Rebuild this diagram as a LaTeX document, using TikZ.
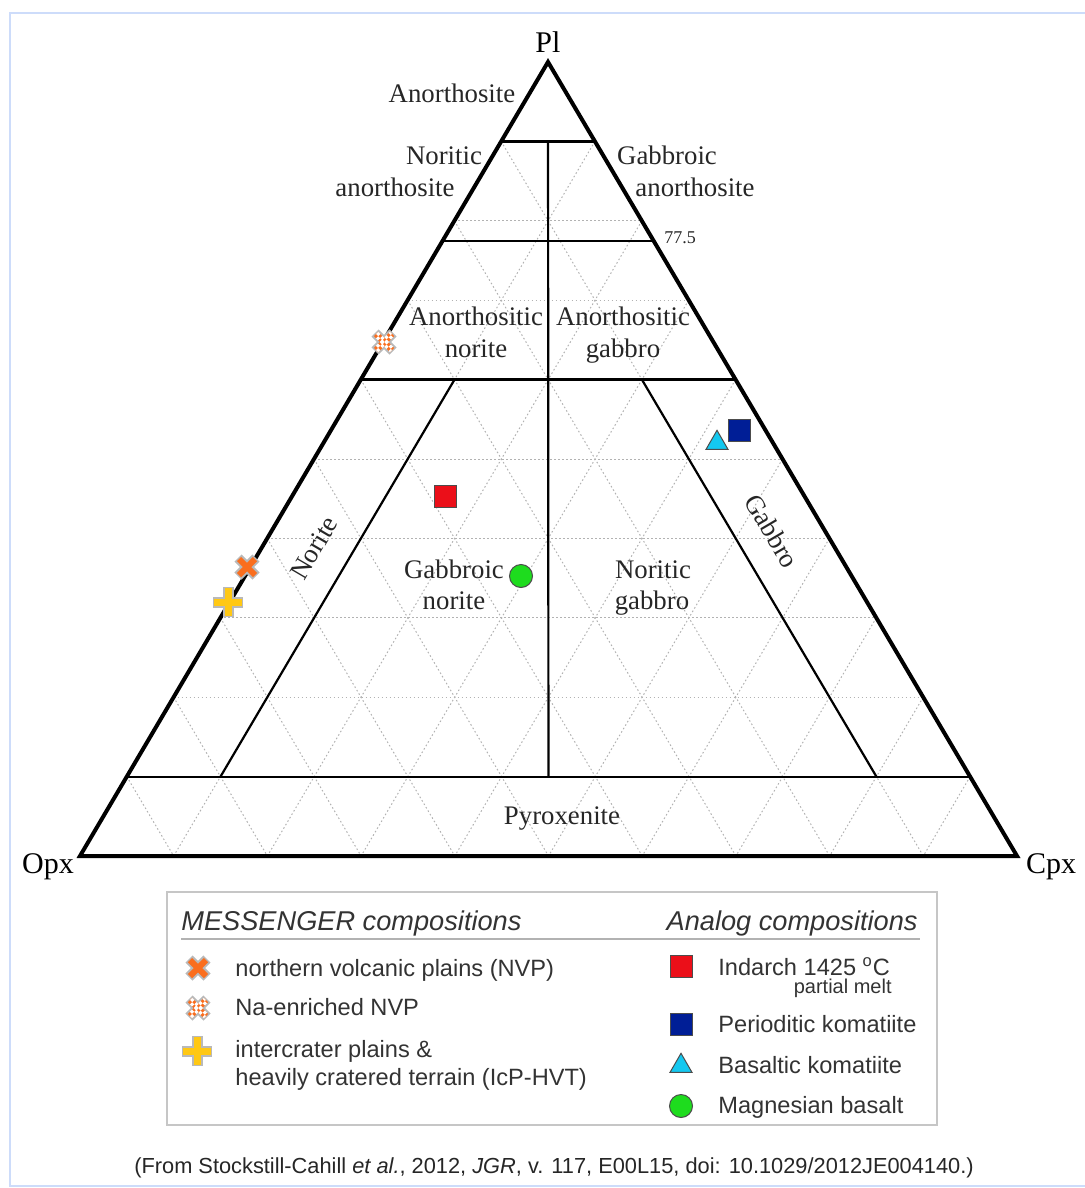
\documentclass[tikz,border=0pt]{standalone}
\usepackage{fontspec}
\setmainfont{Liberation Serif}
\setsansfont{Liberation Sans}
\usepackage{xcolor}
\usepackage{tikz}
\usetikzlibrary{calc}
\usetikzlibrary{positioning}
\usetikzlibrary{shapes.geometric}

\definecolor{frameblue}{RGB}{205,220,250}
\definecolor{nvporange}{RGB}{250,110,30}
\definecolor{icpyellow}{RGB}{255,200,20}
\definecolor{indred}{RGB}{235,15,25}
\definecolor{perblue}{RGB}{0,30,150}
\definecolor{bascyan}{RGB}{20,200,240}
\definecolor{maggreen}{RGB}{30,220,30}

\begin{document}
\begin{tikzpicture}[x=0.5pt,y=-0.5pt,
  nvpx/.pic={
    \draw[gray!55,line width=5pt] (-9,-9) -- (9,9) (-9,9) -- (9,-9);
    \draw[nvporange,line width=3pt] (-8,-8) -- (8,8) (-8,8) -- (8,-8);
  },
  nanvpx/.pic={
    \draw[gray!55,line width=5pt] (-9,-9) -- (9,9) (-9,9) -- (9,-9);
    \draw[nvporange,line width=3pt] (-8,-8) -- (8,8) (-8,8) -- (8,-8);
    \draw[checker,shift={(1.1,-1.1)}] (-8,-8) -- (8,8);
    \draw[checker,dash phase=1.5pt,shift={(-1.1,1.1)}] (-8,-8) -- (8,8);
    \draw[checker,shift={(1.1,1.1)}] (-8,8) -- (8,-8);
    \draw[checker,dash phase=1.5pt,shift={(-1.1,-1.1)}] (-8,8) -- (8,-8);
  },
  icpplus/.pic={
    \draw[gray!55,line width=5.5pt] (-15,0) -- (15,0) (0,-15) -- (0,15);
    \draw[icpyellow,line width=3.5pt] (-14,0) -- (14,0) (0,-14) -- (0,14);
  }]
  \tikzstyle{checker}=[white,line width=1.5pt,dash pattern=on 1.5pt off 1.5pt]
  \tikzstyle{edge}=[line width=2pt,line join=miter]
  \tikzstyle{zone}=[line width=1.1pt]
  \tikzstyle{gridline}=[gray!60,line width=0.5pt,dash pattern=on 0.8pt off 1.2pt]
  \tikzstyle{vlabel}=[font=\fontsize{15}{18}\selectfont,anchor=base,inner sep=0pt]
  \tikzstyle{zlabel}=[font=\fontsize{13.4}{16}\selectfont,anchor=base,inner sep=0pt,text=black!85]
  \tikzstyle{legtitle}=[font=\sffamily\itshape\fontsize{13.6}{16}\selectfont,inner sep=0pt,text=black!80]
  \tikzstyle{legtext}=[font=\sffamily\fontsize{11.8}{14}\selectfont,anchor=base west,inner sep=0pt,text=black!80]
  \tikzstyle{sqmark}=[rectangle,draw=black!70,line width=0.5pt,minimum size=11pt,inner sep=0pt]
  \tikzstyle{trimark}=[regular polygon,regular polygon sides=3,draw=black!70,line width=0.5pt,fill=bascyan,minimum size=12.7pt,inner sep=0pt]
  \tikzstyle{circmark}=[circle,draw=black!70,line width=0.5pt,fill=maggreen,minimum size=11.5pt,inner sep=0pt]

  \useasboundingbox (0,0) rectangle (1085,1188);
  \draw[frameblue,line width=1pt] (1085,13) -- (10,13) -- (10,1186) -- (1085,1186);

  % corners of the diagram
  \coordinate (Pl) at (548,62);
  \coordinate (Opx) at (80,856);
  \coordinate (Cpx) at (1017,856);

  % 10 % grid
  \foreach \i in {1,...,9} {
    \pgfmathsetmacro\p{\i/10}
    \pgfmathsetmacro\q{1-\i/10}
    \draw[gridline] (barycentric cs:Pl=\p,Opx=\q) -- (barycentric cs:Pl=\p,Cpx=\q);
    \draw[gridline] (barycentric cs:Opx=\p,Pl=\q) -- (barycentric cs:Opx=\p,Cpx=\q);
    \draw[gridline] (barycentric cs:Cpx=\p,Pl=\q) -- (barycentric cs:Cpx=\p,Opx=\q);
  }

  % field boundaries
  \foreach \p in {0.9,0.775,0.6,0.1} {
    \pgfmathsetmacro\q{1-\p}
    \draw[zone] (barycentric cs:Pl=\p,Opx=\q) -- (barycentric cs:Pl=\p,Cpx=\q);
  }
  \draw[zone] (barycentric cs:Pl=0.9,Opx=0.05,Cpx=0.05) -- (barycentric cs:Pl=0.1,Opx=0.45,Cpx=0.45);
  \draw[zone] (barycentric cs:Pl=0.6,Opx=0.3,Cpx=0.1) -- (barycentric cs:Pl=0.1,Opx=0.8,Cpx=0.1);
  \draw[zone] (barycentric cs:Pl=0.6,Opx=0.1,Cpx=0.3) -- (barycentric cs:Pl=0.1,Opx=0.1,Cpx=0.8);
  \draw[edge] (Pl) -- (Opx) -- (Cpx) -- cycle;

  \node[vlabel] (pllab) at (548,53) {Pl};
  \node[vlabel] (opxlab) at (48,873) {Opx};
  \node[vlabel] (cpxlab) at (1051,873) {Cpx};

  \node[zlabel] (anor) at (452,103) {Anorthosite};
  \node[zlabel] (noranA) at (444,164) {Noritic};
  \node[zlabel] (noranB) at (395,196) {anorthosite};
  \node[zlabel] (gabanA) at (667,164) {Gabbroic};
  \node[zlabel] (gabanB) at (695,196) {anorthosite};
  \node[zlabel,font=\fontsize{9}{11}\selectfont] (limit) at (680,243) {77.5};
  \node[zlabel] (annorA) at (476,325) {Anorthositic};
  \node[zlabel] (annorB) at (476,357) {norite};
  \node[zlabel] (angabA) at (623,325) {Anorthositic};
  \node[zlabel] (angabB) at (623,357) {gabbro};
  \node[zlabel,anchor=center,rotate=59.5] (nor) at (314,548) {Norite};
  \node[zlabel,anchor=center,rotate=-59.5] (gab) at (772,531) {Gabbro};
  \node[zlabel] (gnorA) at (454,578) {Gabbroic};
  \node[zlabel] (gnorB) at (454,609) {norite};
  \node[zlabel] (ngabA) at (653,578) {Noritic};
  \node[zlabel] (ngabB) at (652,609) {gabbro};
  \node[zlabel] (pyrox) at (562,824) {Pyroxenite};

  % compositions
  \pic (naNVP) at (384,342) {nanvpx};
  \pic (NVP) at (247,567) {nvpx};
  \pic (IcP) at (228,602) {icpplus};
  \node[sqmark,fill=indred] (indarch) at (445,496) {};
  \node[sqmark,fill=perblue] (perkom) at (739,430) {};
  \node[trimark] (baskom) at (717,443) {};
  \node[circmark] (magbas) at (521,576) {};

  % legend
  \draw[gray!45,line width=0.8pt] (167,892) rectangle (937,1125);
  \draw[gray!60,line width=0.6pt] (181,939) -- (920,939);
  \node[legtitle,anchor=base west] (messtitle) at (181,930) {MESSENGER compositions};
  \node[legtitle,anchor=base east] (analtitle) at (918,930) {Analog compositions};

  \pic (legNVP) at (198,968) {nvpx};
  \pic (legnaNVP) at (198,1008) {nanvpx};
  \pic (legIcP) at (197,1051) {icpplus};
  \node[legtext] (txtNVP) at (235,976) {northern volcanic plains (NVP)};
  \node[legtext] (txtnaNVP) at (235,1015) {Na-enriched NVP};
  \node[legtext] (txtIcPA) at (235,1057) {intercrater plains \&};
  \node[legtext] (txtIcPB) at (235,1085) {heavily cratered terrain (IcP-HVT)};

  \node[sqmark,fill=indred] (legind) at (681,966) {};
  \node[sqmark,fill=perblue] (legper) at (681,1024) {};
  \node[trimark] (legbas) at (681,1066) {};
  \node[circmark] (legmag) at (681,1106) {};
  \node[legtext] (txtind) at (718,975) {Indarch 1425 \textsuperscript{o}C};
  \node[legtext,anchor=base east,font=\sffamily\fontsize{10}{12}\selectfont] (txtmelt) at (892,993) {partial melt};
  \node[legtext] (txtper) at (718,1032) {Perioditic komatiite};
  \node[legtext] (txtbas) at (718,1073) {Basaltic komatiite};
  \node[legtext] (txtmag) at (718,1113) {Magnesian basalt};

  \node[font=\sffamily\fontsize{10.9}{13}\selectfont,anchor=base,inner sep=0pt,text=black!85] (source) at (554,1173)
    {(From Stockstill-Cahill \textit{et al.}, 2012, \textit{JGR}, v. 117, E00L15, doi: 10.1029/2012JE004140.)};
\end{tikzpicture}
\end{document}
